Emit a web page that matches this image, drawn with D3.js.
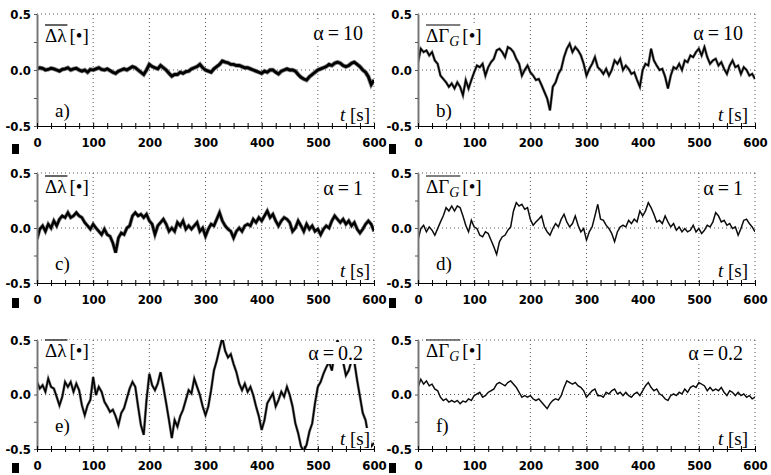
<!DOCTYPE html>
<html><head><meta charset="utf-8">
<script src="https://cdn.jsdelivr.net/npm/d3@7"></script>
<style>body{margin:0;background:#fff}svg{display:block}</style>
</head><body>
<svg id="chart" width="771" height="475"></svg>
<script>
// ---------- DATA ----------
const times = d3.range(0, 601, 5); // t [s]
const lambdaAlpha10 = [
 0.01,0.02,0.015,0.0,0.005,0.015,0.01,0.0,-0.01,0.005,
 0.01,0.02,0.0,0.01,0.015,0.0,-0.01,0.0,-0.02,0.005,
 0.0,0.01,0.02,0.005,0.0,0.01,-0.005,-0.02,-0.03,-0.01,
 0.0,0.01,0.0,0.015,0.03,0.02,0.0,-0.02,-0.04,0.0,
 0.05,0.03,0.02,0.01,0.04,0.02,0.0,-0.03,-0.055,-0.04,
 -0.04,-0.02,-0.03,-0.015,-0.01,0.01,0.02,0.03,0.05,0.02,
 0.0,-0.01,-0.02,0.01,0.03,0.05,0.08,0.07,0.065,0.05,
 0.05,0.04,0.04,0.03,0.02,0.02,0.01,0.0,-0.01,-0.02,
 -0.03,-0.01,-0.02,0.0,0.0,-0.02,-0.035,-0.01,0.0,0.01,
 0.0,0.0,-0.01,-0.04,-0.065,-0.08,-0.09,-0.06,-0.04,-0.02,
 0.0,0.01,0.02,0.03,0.05,0.04,0.06,0.07,0.06,0.04,
 0.03,0.04,0.06,0.07,0.05,0.03,0.0,-0.02,-0.06,-0.13,
 -0.09];
const gammaAlpha10 = [
 0.07,0.19,0.16,0.175,0.13,0.16,0.085,0.055,-0.05,-0.08,
 -0.11,-0.15,-0.12,-0.165,-0.11,-0.15,-0.225,-0.09,-0.165,-0.09,
 -0.02,0.04,0.025,0.055,-0.05,0.025,0.07,0.1,0.175,0.19,
 0.16,0.115,0.205,0.19,0.16,0.1,0.055,-0.05,0.0,0.04,
 -0.02,-0.05,-0.09,-0.08,-0.135,-0.195,-0.255,-0.36,-0.15,-0.11,
 -0.035,0.01,0.115,0.19,0.235,0.16,0.205,0.175,0.13,0.055,
 -0.05,0.01,0.055,0.115,0.025,0.0,-0.035,0.01,-0.05,0.0,
 0.085,0.055,0.1,0.0,0.04,0.01,-0.035,-0.02,-0.09,-0.15,
 0.0,0.055,0.04,0.19,0.085,0.04,0.0,0.01,-0.06,-0.165,
 -0.05,0.025,0.01,0.055,0.0,0.085,0.07,0.13,0.115,0.16,
 0.19,0.13,0.205,0.115,0.055,0.085,0.1,0.04,0.07,0.01,
 -0.035,0.04,0.085,0.025,0.04,-0.035,0.025,0.0,-0.05,-0.035,
 -0.08];
const lambdaAlpha1 = [
 -0.10,-0.01,0.02,-0.03,0.035,0.0,0.065,0.02,0.08,0.11,
 0.095,0.14,0.095,0.11,0.14,0.11,0.095,0.05,0.02,-0.01,
 0.035,0.0,-0.03,-0.06,-0.01,-0.06,-0.075,-0.135,-0.225,-0.09,
 -0.045,-0.06,0.0,0.02,0.11,0.14,0.11,0.125,0.095,0.125,
 0.065,0.035,-0.06,0.02,0.05,0.08,0.035,-0.03,0.0,-0.03,
 0.05,0.02,0.065,-0.01,0.02,-0.01,0.02,0.05,-0.03,0.0,
 -0.075,-0.01,0.035,0.02,0.08,0.14,0.065,0.02,-0.01,-0.03,
 -0.09,-0.03,0.0,-0.03,0.02,0.035,0.02,0.08,0.05,0.095,
 0.065,0.11,0.155,0.095,0.125,0.065,0.02,0.065,0.095,0.08,
 0.05,-0.03,0.0,0.065,0.02,-0.03,0.035,-0.01,0.02,-0.03,
 -0.01,-0.06,-0.01,0.02,0.0,0.065,0.11,0.08,0.05,0.08,
 0.035,0.065,0.02,0.05,-0.01,-0.045,-0.01,0.035,0.065,0.035,
 -0.03];
const gammaAlpha1 = [
 -0.11,-0.005,0.025,-0.035,0.01,-0.02,-0.065,-0.005,0.055,0.11,
 0.185,0.155,0.2,0.155,0.2,0.185,0.11,0.025,-0.035,0.07,
 0.01,-0.005,-0.065,-0.08,-0.035,-0.05,-0.11,-0.17,-0.24,-0.125,
 -0.08,-0.065,-0.02,0.01,0.155,0.23,0.2,0.215,0.17,0.185,
 0.08,0.025,0.055,0.08,0.11,0.01,-0.035,-0.065,-0.005,0.04,
 0.01,0.08,0.125,0.055,0.01,0.04,0.11,0.025,-0.035,-0.005,
 -0.11,-0.035,0.01,0.11,0.215,0.08,0.07,0.025,-0.005,-0.05,
 -0.125,-0.035,0.01,0.025,0.01,0.07,0.04,0.08,0.055,0.155,
 0.11,0.155,0.23,0.185,0.125,0.055,0.07,0.04,0.11,0.055,
 0.01,0.04,-0.02,0.01,-0.035,-0.005,-0.035,-0.02,0.025,-0.035,
 -0.005,-0.05,-0.02,0.025,0.01,0.055,0.14,0.11,0.055,0.07,
 0.025,0.04,-0.005,0.01,-0.065,-0.005,0.07,0.08,0.04,0.01,
 -0.035];
const lambdaAlpha02 = [
 0.115,0.055,0.085,0.025,0.145,0.07,0.055,-0.02,-0.1,-0.02,
 0.115,0.07,0.115,0.025,0.1,0.04,-0.1,-0.19,-0.1,-0.05,
 0.16,-0.005,0.07,0.025,-0.065,-0.11,-0.16,-0.14,-0.2,-0.28,
 -0.17,-0.125,-0.035,0.055,0.115,0.07,-0.11,-0.28,-0.37,-0.05,
 0.19,0.085,0.04,0.1,0.205,0.07,-0.08,-0.235,-0.4,-0.235,
 -0.295,-0.2,-0.14,-0.05,0.04,0.01,0.145,0.07,-0.005,-0.11,
 -0.19,-0.11,0.04,0.22,0.31,0.42,0.52,0.4,0.34,0.37,
 0.28,0.205,0.1,0.04,0.1,0.025,0.07,-0.005,-0.11,-0.2,
 -0.325,-0.235,-0.08,-0.035,0.01,-0.11,-0.05,0.025,-0.02,0.07,
 -0.005,-0.11,-0.265,-0.355,-0.475,-0.52,-0.46,-0.34,-0.265,-0.08,
 0.07,0.115,0.19,0.25,0.3,0.22,0.38,0.5,0.4,0.3,
 0.175,0.22,0.31,0.3,0.13,-0.02,-0.17,-0.235,-0.385,-0.475,
 -0.445];
const gammaAlpha02 = [
 0.065,0.14,0.095,0.125,0.08,0.095,0.05,0.035,-0.025,-0.055,
 -0.04,-0.07,-0.055,-0.07,-0.055,-0.085,-0.06,-0.07,-0.04,-0.055,
 -0.01,0.005,0.02,-0.025,-0.01,0.02,0.035,0.05,0.095,0.11,
 0.095,0.08,0.11,0.125,0.095,0.065,0.02,-0.025,-0.01,-0.025,
 -0.01,-0.04,-0.055,-0.04,-0.07,-0.1,-0.13,-0.085,-0.055,-0.04,
 -0.05,-0.01,0.065,0.125,0.11,0.095,0.11,0.08,0.065,0.035,
 -0.025,0.005,0.035,0.05,-0.01,-0.01,-0.025,0.02,0.005,0.035,
 0.05,0.005,0.02,-0.01,0.02,-0.01,-0.025,0.005,0.02,-0.01,
 0.035,0.08,0.11,0.065,0.035,0.05,0.005,-0.01,-0.04,-0.055,
 -0.01,0.005,-0.01,0.02,0.005,0.05,0.02,0.065,0.08,0.065,
 0.11,0.095,0.08,0.035,0.065,0.035,0.05,0.035,0.065,0.02,
 -0.01,0.035,0.02,-0.01,0.02,-0.01,0.005,-0.025,-0.01,-0.04,
 -0.025];

const xTickValues = d3.range(0, 601, 25);
const xTickLabels = ["0","100","200","300","400","500","600"];
const yTickValues = [-0.5, -0.25, 0, 0.25, 0.5];
const yTickLabels = {"-0.5":"-0.5","0":"0.0","0.5":"0.5"};
const gridX = [100, 200, 300, 400, 500, 600];
const gridY = [0, 0.5];
const panelLetters = ["a)","b)","c)","d)","e)","f)"];
const alphaLabels = ["α\u2009=\u200910","α\u2009=\u200910","α\u2009=\u20091","α\u2009=\u20091","α\u2009=\u20090.2","α\u2009=\u20090.2"];
const quantities = ["lambda","gamma","lambda","gamma","lambda","gamma"];
const seriesList = [lambdaAlpha10, gammaAlpha10, lambdaAlpha1, gammaAlpha1, lambdaAlpha02, gammaAlpha02];

// ---------- LAYOUT ----------
const cols = [{x0:37, x1:374, sq:12, tRight:370, aRightOff:11},
              {x0:418, x1:755, sq:389, tRight:748, aRightOff:12}];
const rows = [{y0:14, y1:126, qBase:42, aBase:40, lBase:117, tBase:121, sq:144},
              {y0:173, y1:283, qBase:193, aBase:195, lBase:270, tBase:277, sq:298},
              {y0:340, y1:449, qBase:357, aBase:360, lBase:432, tBase:445, sq:463}];
const strokeW = [2.8, 1.6, 2.4, 1.1, 1.6, 1.1];
const haloW = [1.6, 1.2, 1.4, 0.6, 1.2, 0.5];
const serif = "'Liberation Serif','Times New Roman',serif";
const tickFont = "'Liberation Sans Narrow','DejaVu Sans Condensed','Arial Narrow',sans-serif";

const svg = d3.select("#chart");

function boxed(g, build) {
  const grp = g.append("g");
  const bg = grp.append("rect").attr("fill", "#fff");
  const inner = grp.append("g");
  build(inner);
  const bb = inner.node().getBBox();
  bg.attr("x", bb.x - 1).attr("y", bb.y).attr("width", bb.width + 2).attr("height", bb.height);
  return grp;
}

seriesList.forEach((values, i) => {
  const C = cols[i % 2], R = rows[Math.floor(i / 2)];
  const x = d3.scaleLinear().domain([0, 600]).range([C.x0, C.x1]);
  const y = d3.scaleLinear().domain([-0.5, 0.5]).range([R.y1, R.y0]);
  const g = svg.append("g");

  // grid
  g.selectAll(".gx").data(gridX).join("line")
    .attr("x1", d => x(d)).attr("x2", d => x(d)).attr("y1", y(0.5)).attr("y2", y(-0.5))
    .attr("stroke", "#555").attr("stroke-width", 1).attr("stroke-dasharray", "1,3");
  g.selectAll(".gy").data(gridY).join("line")
    .attr("x1", x(0)).attr("x2", x(600)).attr("y1", d => y(d)).attr("y2", d => y(d))
    .attr("stroke", "#555").attr("stroke-width", 1).attr("stroke-dasharray", "1,3");

  // clip + line
  const cid = "clip" + i;
  svg.append("clipPath").attr("id", cid).append("rect")
    .attr("x", x(0)).attr("y", y(0.5)).attr("width", x(600) - x(0)).attr("height", y(-0.5) - y(0.5));
  const pts = times.map((t, k) => ({t, v: values[k]}));
  const lineGen = d3.line().x(d => x(d.t)).y(d => y(d.v));
  g.append("path").datum(pts)
    .attr("clip-path", `url(#${cid})`)
    .attr("fill", "none").attr("stroke", "#888").attr("stroke-width", strokeW[i] + haloW[i])
    .attr("stroke-linejoin", "miter").attr("d", lineGen);
  g.append("path").datum(pts)
    .attr("clip-path", `url(#${cid})`)
    .attr("fill", "none").attr("stroke", "#000").attr("stroke-width", strokeW[i])
    .attr("stroke-linejoin", "miter").attr("d", lineGen);

  // quantity label
  boxed(g, inner => {
    const qx = C.x0 + 8;
    const t1 = inner.append("text").attr("x", qx).attr("y", R.qBase)
      .attr("font-family", serif).attr("font-size", 19).attr("fill", "#000");
    if (quantities[i] === "lambda") {
      t1.append("tspan").text("Δλ");
    } else {
      t1.append("tspan").text("ΔΓ");
      t1.append("tspan").attr("font-style", "italic").attr("font-size", 14).attr("dy", 4).text("G");
    }
    const w = t1.node().getComputedTextLength();
    inner.append("line").attr("x1", qx).attr("x2", qx + w + 1)
      .attr("y1", R.qBase - 17).attr("y2", R.qBase - 17)
      .attr("stroke", "#000").attr("stroke-width", 1.2);
    inner.append("text").attr("x", qx + w + 3).attr("y", R.qBase)
      .attr("font-family", serif).attr("font-size", 19).attr("fill", "#000").text("[•]");
  });

  // alpha label
  boxed(g, inner => {
    inner.append("text").attr("x", C.x1 - C.aRightOff).attr("y", R.aBase)
      .attr("text-anchor", "end").attr("font-family", serif).attr("font-size", 20)
      .attr("fill", "#000").text(alphaLabels[i]);
  });

  // panel letter
  boxed(g, inner => {
    inner.append("text").attr("x", C.x0 + 18).attr("y", R.lBase)
      .attr("font-family", serif).attr("font-size", 19).attr("fill", "#000").text(panelLetters[i]);
  });

  // t [s]
  boxed(g, inner => {
    const tt = inner.append("text").attr("x", C.tRight).attr("y", R.tBase)
      .attr("text-anchor", "end").attr("font-family", serif).attr("font-size", 19).attr("fill", "#000");
    tt.append("tspan").attr("font-style", "italic").text("t");
    tt.append("tspan").text(" [s]");
  });

  // y axis
  const yAxis = d3.axisLeft(y).tickValues(yTickValues).tickSizeInner(3).tickSizeOuter(0).tickPadding(3)
    .tickFormat(d => yTickLabels[String(d)] || "");
  const ya = g.append("g").attr("transform", `translate(${x(0)},0)`).call(yAxis);
  ya.select(".domain").attr("stroke", "#777").attr("stroke-width", 2);
  ya.selectAll(".tick line").attr("stroke", "#555");
  ya.selectAll("text").attr("font-family", tickFont).attr("font-weight", "bold").attr("font-size", 13).attr("fill", "#000");

  // x axis
  const xAxis = d3.axisBottom(x).tickValues(xTickValues).tickSizeInner(3).tickSizeOuter(0).tickPadding(9)
    .tickFormat(d => (d % 100 === 0 ? xTickLabels[d / 100] : ""));
  const xa = g.append("g").attr("transform", `translate(0,${y(-0.5)})`).call(xAxis);
  xa.select(".domain").attr("stroke", "#000").attr("stroke-width", 1.2);
  xa.selectAll(".tick line").attr("y1", -3).attr("stroke", "#000");
  xa.selectAll("text").attr("font-family", tickFont).attr("font-weight", "bold").attr("font-size", 13).attr("fill", "#000");

  // small black marker square
  g.append("rect").attr("x", C.sq).attr("y", R.sq).attr("width", 7).attr("height", 10).attr("fill", "#000");
});
</script>
</body></html>
